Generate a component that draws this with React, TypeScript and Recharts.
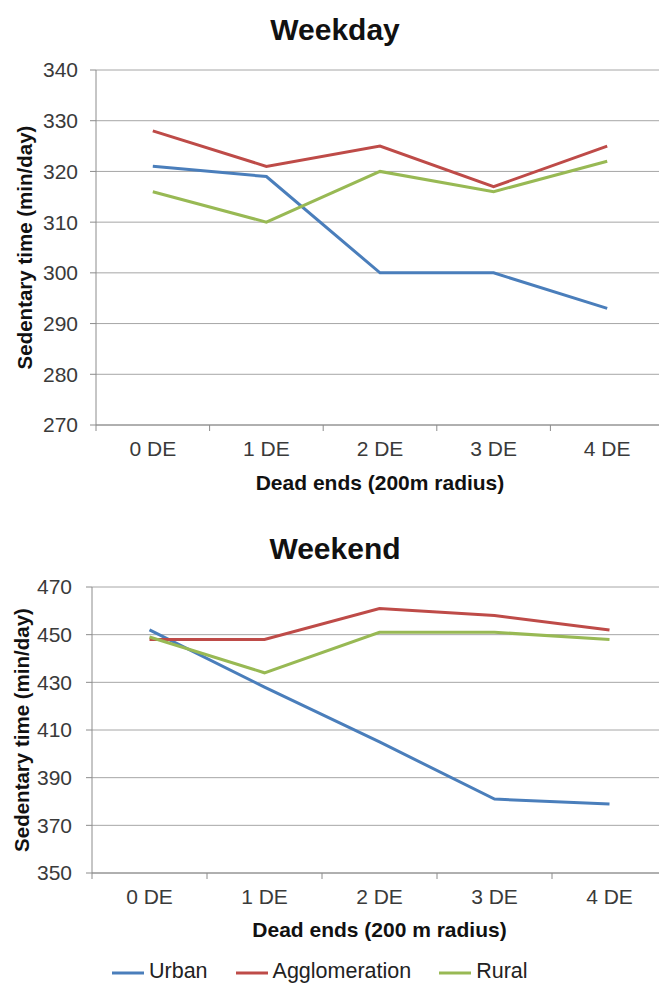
import React from 'react';
import { LineChart, Line, XAxis, YAxis, CartesianGrid } from 'recharts';

const categories = ['0 DE', '1 DE', '2 DE', '3 DE', '4 DE'];

// Weekday sedentary time (min/day)
const urbanWeekday = [321, 319, 300, 300, 293];
const agglomerationWeekday = [328, 321, 325, 317, 325];
const ruralWeekday = [316, 310, 320, 316, 322];
const weekdayTicks = [270, 280, 290, 300, 310, 320, 330, 340];

// Weekend sedentary time (min/day)
const urbanWeekend = [452, 428, 405, 381, 379];
const agglomerationWeekend = [448, 448, 461, 458, 452];
const ruralWeekend = [449, 434, 451, 451, 448];
const weekendTicks = [350, 370, 390, 410, 430, 450, 470];

const seriesNames = ['Urban', 'Agglomeration', 'Rural'];
const COLORS = ['#4A7EBB', '#BE4B48', '#98B954'];

const FONT = '"Liberation Sans", Arial, sans-serif';
const AXIS = '#8c8c8c';
const GRID = '#a6a6a6';
const TEXT = '#3a3a3a';

// x positions: categories on integers, tick marks on the half steps between them
const xTicks = [-0.5, 0, 0.5, 1, 1.5, 2, 2.5, 3, 3.5, 4, 4.5];

const buildRows = (u: number[], a: number[], r: number[]) =>
  categories.map((c, i) => ({ i, name: c, urban: u[i], agglomeration: a[i], rural: r[i] }));

const weekdayRows = buildRows(urbanWeekday, agglomerationWeekday, ruralWeekday);
const weekendRows = buildRows(urbanWeekend, agglomerationWeekend, ruralWeekend);

const CategoryTick = (props: any) => {
  const { x, y, payload } = props;
  const v = payload.value;
  if (Number.isInteger(v)) {
    return (
      <text x={x} y={y + 10} dy="0.71em" textAnchor="middle" fill={TEXT} fontSize={21} fontFamily={FONT}>
        {categories[v]}
      </text>
    );
  }
  return <line x1={x} x2={x} y1={y - 6} y2={y} stroke={AXIS} strokeWidth={1} />;
};

interface PanelProps {
  rows: any[];
  ticks: number[];
  top: number;
  height: number;
  marginTop: number;
  yWidth: number;
  rightMargin: number;
  xHeight: number;
  xTitle: string;
  xTitleOffset: number;
  yTitleOffset: number;
  tickMargin: number;
}

const Panel: React.FC<PanelProps> = (p) => (
  <div style={{ position: 'absolute', left: 0, top: p.top }}>
    <LineChart
      width={659}
      height={p.height}
      data={p.rows}
      margin={{ top: p.marginTop, right: p.rightMargin, bottom: 0, left: 0 }}
    >
      <CartesianGrid vertical={false} stroke={GRID} strokeWidth={1} />
      <XAxis
        dataKey="i"
        type="number"
        domain={[-0.5, 4.5]}
        ticks={xTicks}
        interval={0}
        height={p.xHeight}
        tickLine={false}
        tickSize={6}
        tickMargin={0}
        axisLine={{ stroke: AXIS }}
        tick={<CategoryTick />}
        label={{
          value: p.xTitle,
          position: 'insideBottom',
          offset: p.xTitleOffset,
          style: { fontFamily: FONT, fontSize: 21, fontWeight: 'bold', fill: '#111' },
        }}
      />
      <YAxis
        domain={[p.ticks[0], p.ticks[p.ticks.length - 1]]}
        ticks={p.ticks}
        interval={0}
        width={p.yWidth}
        tickSize={6}
        tickMargin={p.tickMargin}
        tickLine={{ stroke: AXIS }}
        axisLine={{ stroke: AXIS }}
        tick={{ fill: TEXT, fontSize: 21, fontFamily: FONT }}
        label={{
          value: 'Sedentary time (min/day)',
          angle: -90,
          position: 'insideLeft',
          offset: p.yTitleOffset,
          style: { textAnchor: 'middle', fontFamily: FONT, fontSize: 20.5, fontWeight: 'bold', fill: '#111' },
        }}
      />
      <Line dataKey="urban" stroke={COLORS[0]} strokeWidth={3} dot={false} isAnimationActive={false} />
      <Line dataKey="agglomeration" stroke={COLORS[1]} strokeWidth={3} dot={false} isAnimationActive={false} />
      <Line dataKey="rural" stroke={COLORS[2]} strokeWidth={3} dot={false} isAnimationActive={false} />
    </LineChart>
  </div>
);

const titleStyle = (top: number): React.CSSProperties => ({
  position: 'absolute',
  top,
  left: 0,
  width: 670,
  textAlign: 'center',
  fontFamily: FONT,
  fontWeight: 'bold',
  fontSize: 30,
  lineHeight: '34px',
  color: '#111',
});

const App: React.FC = () => (
  <div style={{ position: 'absolute', left: 0, top: 0, width: 659, height: 992, background: '#fff', overflow: 'hidden' }}>
    <div style={titleStyle(13)}>Weekday</div>
    <Panel
      rows={weekdayRows}
      ticks={weekdayTicks}
      top={0}
      height={500}
      marginTop={70}
      yWidth={96}
      rightMargin={-5}
      xHeight={75}
      xTitle="Dead ends (200m radius)"
      xTitleOffset={10}
      yTitleOffset={25}
      tickMargin={12}
    />
    <div style={titleStyle(532)}>Weekend</div>
    <Panel
      rows={weekendRows}
      ticks={weekendTicks}
      top={500}
      height={450}
      marginTop={87}
      yWidth={92}
      rightMargin={-8}
      xHeight={77}
      xTitle="Dead ends (200 m radius)"
      xTitleOffset={13}
      yTitleOffset={22}
      tickMargin={14}
    />
    <div
      style={{
        position: 'absolute',
        top: 958,
        left: 112,
        display: 'flex',
        alignItems: 'center',
        fontFamily: FONT,
        fontSize: 21.5,
        color: '#222',
        lineHeight: '26px',
      }}
    >
      {seriesNames.map((n, i) => (
        <div key={n} style={{ display: 'flex', alignItems: 'center', marginRight: 28 }}>
          <svg width={32} height={6} style={{ marginRight: 5, marginTop: 4 }}>
            <line x1={0} x2={32} y1={3} y2={3} stroke={COLORS[i]} strokeWidth={3} />
          </svg>
          <span>{n}</span>
        </div>
      ))}
    </div>
  </div>
);

export default App;
